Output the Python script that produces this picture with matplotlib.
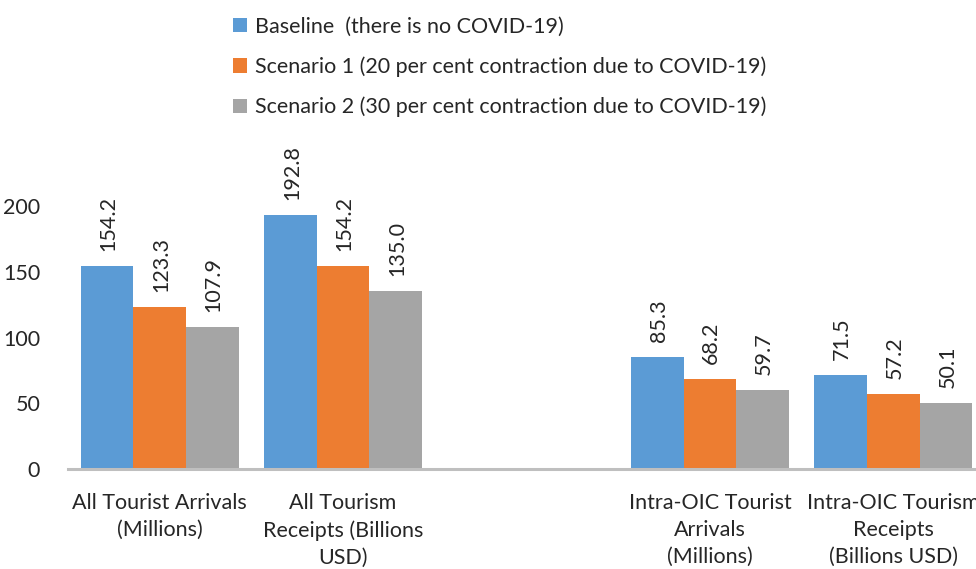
import numpy as np
import matplotlib.pyplot as plt

# Categorie (la terza è vuota, crea lo spazio tra i gruppi)
categorie = ["All Tourist Arrivals\n(Millions)",
             "All Tourism\nReceipts (Billions\nUSD)",
             "",
             "Intra-OIC Tourist\nArrivals\n(Millions)",
             "Intra-OIC Tourism\nReceipts\n(Billions USD)"]

baseline = [154.2, 192.8, np.nan, 85.3, 71.5]
scenario1 = [123.3, 154.2, np.nan, 68.2, 57.2]
scenario2 = [107.9, 135.0, np.nan, 59.7, 50.1]

serie = ["Baseline  (there is no COVID-19)",
         "Scenario 1 (20 per cent contraction due to COVID-19)",
         "Scenario 2 (30 per cent contraction due to COVID-19)"]
colori = ["#5B9BD5", "#ED7D31", "#A5A5A5"]

plt.rcParams['font.family'] = ['Lato', 'DejaVu Sans']
fs = 15.5

fig = plt.figure(figsize=(9.76, 5.69), dpi=100)
ax = fig.add_axes([68/976, 100/569, 917/976, 328.75/569])

x = np.arange(len(categorie))
w = 0.287
for i, (vals, nome, col) in enumerate(zip([baseline, scenario1, scenario2], serie, colori)):
    pos = x + (i - 1) * w
    ax.bar(pos, vals, width=w, color=col, label=nome)
    for p, v in zip(pos, vals):
        if not np.isnan(v):
            ax.annotate(f"{v:.1f}", (p, v), xytext=(1, 11), textcoords='offset points',
                        rotation=90, ha='center', va='bottom', fontsize=fs, color='#262626')

ax.set_xlim(-0.5, 4.5)
ax.set_ylim(0, 250)
ax.set_yticks([0, 50, 100, 150, 200])
ax.set_xticks(x)
ax.set_xticklabels(categorie, fontsize=fs, color='#262626', linespacing=1.45)
ax.tick_params(axis='y', length=0, pad=20, labelsize=fs, labelcolor='#262626')
ax.tick_params(axis='x', length=0, pad=17)
for s in ['top', 'right', 'left']:
    ax.spines[s].set_visible(False)
ax.spines['bottom'].set_color('#BFBFBF')
ax.spines['bottom'].set_linewidth(2.2)

fig.legend(loc='upper left', bbox_to_anchor=(214/976, 1.005), frameon=False,
           fontsize=fs, handlelength=0.65, handleheight=0.65, handletextpad=0.35,
           labelspacing=0.92, labelcolor='#262626')

fig.savefig("out.png", dpi=100)
